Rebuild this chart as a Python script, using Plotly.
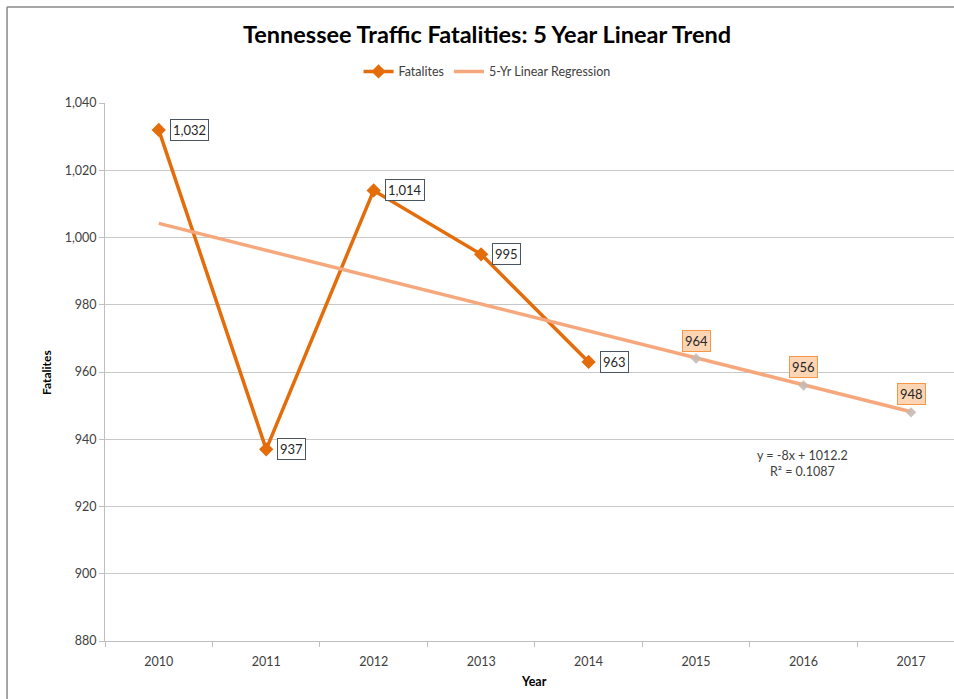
import plotly.graph_objects as go

years = ["2010", "2011", "2012", "2013", "2014", "2015", "2016", "2017"]
fatal_years = ["2010", "2011", "2012", "2013", "2014"]
fatalities = [1032, 937, 1014, 995, 963]
trend = [1004.2, 996.2, 988.2, 980.2, 972.2, 964.2, 956.2, 948.2]
forecast_years = ["2015", "2016", "2017"]
forecast = [964, 956, 948]
yticks = [880, 900, 920, 940, 960, 980, 1000, 1020, 1040]

FONT = "Lato, Carlito, 'Open Sans', sans-serif"
DARK = "#E46C0A"
LIGHT = "#F6A77C"

fig = go.Figure()

fig.add_trace(go.Scatter(
    x=fatal_years, y=fatalities, name="Fatalites", mode="lines+markers",
    line=dict(color=DARK, width=3.5),
    marker=dict(symbol="diamond", size=11, color=DARK),
))
fig.add_trace(go.Scatter(
    x=years, y=trend, name="5-Yr Linear Regression", mode="lines",
    line=dict(color=LIGHT, width=3.5),
))
fig.add_trace(go.Scatter(
    x=forecast_years, y=forecast, mode="markers", showlegend=False,
    marker=dict(symbol="diamond", size=8, color="rgba(200,185,178,0.9)"),
))

annotations = []
for yr, v in zip(fatal_years, fatalities):
    annotations.append(dict(
        x=years.index(yr), y=v, xref="x", yref="y", text=f"{v:,}", showarrow=False,
        xanchor="left", yanchor="middle", xshift=11,
        font=dict(family=FONT, size=13, color="#262626"),
        bgcolor="white", bordercolor="#4a5560", borderwidth=1, borderpad=2,
    ))
for yr, v in zip(forecast_years, forecast):
    annotations.append(dict(
        x=years.index(yr), y=v, xref="x", yref="y", text=f"{v:,}", showarrow=False,
        xanchor="center", yanchor="bottom", yshift=7,
        font=dict(family=FONT, size=13, color="#262626"),
        bgcolor="#FCD5B4", bordercolor="#F79646", borderwidth=1, borderpad=2,
    ))
annotations.append(dict(
    x=0.822, y=0.329, xref="paper", yref="paper", xanchor="center", yanchor="middle",
    text="y = -8x + 1012.2<br>R² = 0.1087", showarrow=False,
    font=dict(family=FONT, size=12.5, color="#404040"), align="center",
))
annotations.append(dict(
    x=-0.0695, y=0.5, xref="paper", yref="paper", xanchor="center", yanchor="middle",
    text="<b>Fatalites</b>",
    textangle=-90, showarrow=False, font=dict(family=FONT, size=12, color="black"),
))
annotations.append(dict(
    x=0.505, y=-0.076, xref="paper", yref="paper", xanchor="center", yanchor="middle",
    text="<b>Year</b>",
    showarrow=False, font=dict(family=FONT, size=12.5, color="black"),
))

fig.update_layout(
    width=954, height=699,
    margin=dict(l=105, r=0, t=103, b=58),
    paper_bgcolor="white", plot_bgcolor="white",
    title=dict(text="<b>Tennessee Traffic Fatalities: 5 Year Linear Trend</b>",
               x=0.5105, xanchor="center", y=0.95, yanchor="middle",
               font=dict(family=FONT, size=23.5, color="black")),
    legend=dict(orientation="h", x=0.45, xanchor="center", y=1.058, yanchor="middle",
                font=dict(family=FONT, size=12.5, color="#404040"),
                bgcolor="rgba(0,0,0,0)"),
    annotations=annotations,
    shapes=[
        dict(type="line", xref="paper", yref="paper", x0=-0.1154, x1=-0.1154, y0=-0.2, y1=1.1784,
             line=dict(color="#8a8a8a", width=1.5)),
        dict(type="line", xref="paper", yref="paper", x0=-0.1154, x1=1.1, y0=1.1784, y1=1.1784,
             line=dict(color="#8a8a8a", width=1.5)),
    ],
    xaxis=dict(type="category", categoryorder="array", categoryarray=years,
               range=[-0.5, 7.4], tickson="boundaries", ticks="outside", ticklen=5,
               tickcolor="#bfbfbf", showline=True, linecolor="#bfbfbf", linewidth=1,
               showgrid=False, ticklabelstandoff=9,
               tickfont=dict(family=FONT, size=12.5, color="#404040")),
    yaxis=dict(range=[880, 1040], tickvals=yticks, tickformat=",", ticks="outside",
               ticklen=5, tickcolor="#bfbfbf", showline=True, linecolor="#bfbfbf",
               linewidth=1, showgrid=True, gridcolor="#c8c8c8", gridwidth=1,
               zeroline=False, tickfont=dict(family=FONT, size=12.5, color="#404040")),
)

fig.write_html("out.html")
